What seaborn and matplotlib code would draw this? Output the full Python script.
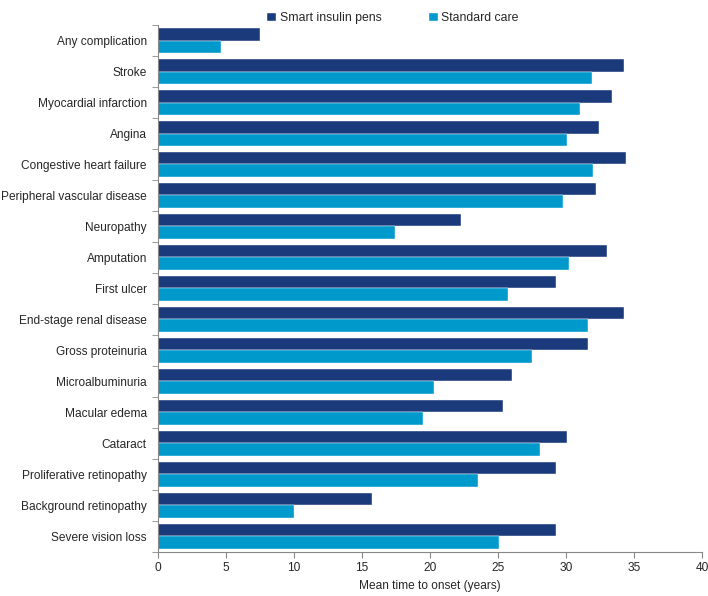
import numpy as np
import pandas as pd
import seaborn as sns
import matplotlib.pyplot as plt
from matplotlib.ticker import FixedLocator

# ── Data ───────────────────────────────────────────────────────────────────────
complications = [
    "Any complication", "Stroke", "Myocardial infarction", "Angina",
    "Congestive heart failure", "Peripheral vascular disease", "Neuropathy",
    "Amputation", "First ulcer", "End-stage renal disease", "Gross proteinuria",
    "Microalbuminuria", "Macular edema", "Cataract", "Proliferative retinopathy",
    "Background retinopathy", "Severe vision loss",
]
smart_pens = [7.5, 34.3, 33.4, 32.4, 34.4, 32.2, 22.3, 33.0, 29.3, 34.3, 31.6,
              26.0, 25.4, 30.1, 29.3, 15.7, 29.3]
standard_care = [4.6, 31.9, 31.0, 30.1, 32.0, 29.8, 17.4, 30.2, 25.7, 31.6, 27.5,
                 20.3, 19.5, 28.1, 23.5, 10.0, 25.1]
series_names = ["Smart insulin pens", "Standard care"]
colors = ["#1a3a7c", "#0099cc"]

df = pd.DataFrame({
    "complication": complications * 2,
    "years": smart_pens + standard_care,
    "group": [series_names[0]] * len(complications) + [series_names[1]] * len(complications),
})

# ── Plot ───────────────────────────────────────────────────────────────────────
sns.set_style("white")
plt.rcParams["font.family"] = ["Liberation Sans", "DejaVu Sans"]

fig = plt.figure(figsize=(7.08, 5.96), dpi=100)
ax = fig.add_axes([0.2232, 0.074, 0.7683, 0.884])

sns.barplot(data=df, y="complication", x="years", hue="group", orient="h",
            palette=colors, width=0.8, saturation=1, ax=ax, order=complications)

for p in ax.patches:
    p.set_edgecolor("white")
    p.set_linewidth(0.3)

ax.set_xlim(0, 40)
ax.set_xticks(np.arange(0, 41, 5))
ax.set_ylim(len(complications) - 0.5, -0.5)
ax.yaxis.set_minor_locator(FixedLocator(np.arange(-0.5, len(complications), 1)))
ax.tick_params(axis="y", which="major", length=0, labelsize=8.6, pad=8)
ax.tick_params(axis="y", which="minor", length=4, color="#888888", direction="out", left=True)
ax.tick_params(axis="x", length=4, color="#888888", direction="out", labelsize=8.6, bottom=True)

ax.set_xlabel("Mean time to onset (years)", fontsize=8.6)
ax.set_ylabel("")

for side in ["top", "right"]:
    ax.spines[side].set_visible(False)
for side in ["left", "bottom"]:
    ax.spines[side].set_color("#888888")
    ax.spines[side].set_linewidth(0.8)

ax.legend(loc="lower center", bbox_to_anchor=(0.432, 0.992), ncol=2, frameon=False,
          fontsize=8.8, handlelength=0.7, handleheight=0.7, handletextpad=0.3,
          columnspacing=3.9, borderaxespad=0)

fig.savefig("out.png", dpi=100)
